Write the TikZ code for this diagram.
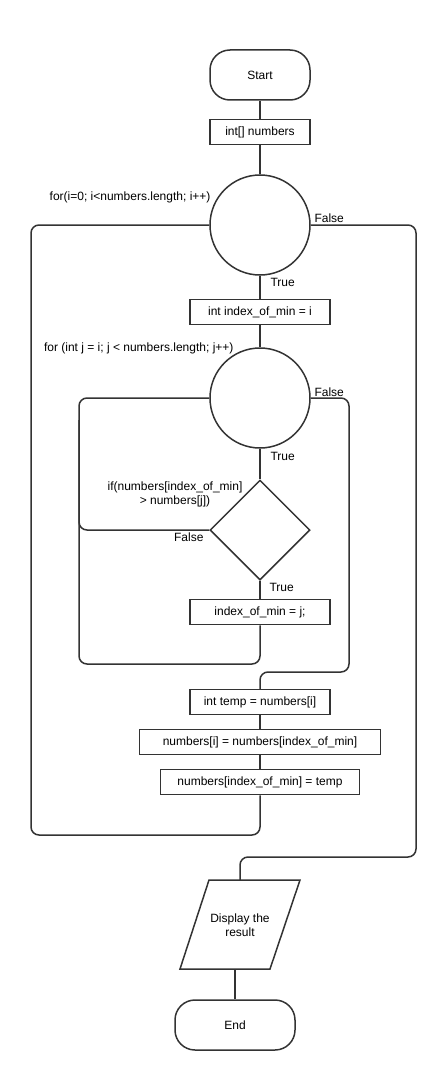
\documentclass[tikz,border=0pt]{standalone}
\usepackage{fontspec}
\setmainfont{Liberation Sans}
\usetikzlibrary{shapes.geometric}
\tikzstyle{startstop} = [draw=black!80, line width=1.5pt, rectangle, rounded corners=20pt, minimum width=100pt, minimum height=50pt, inner sep=0pt]
\tikzstyle{process} = [draw=black!80, line width=1.5pt, rectangle, minimum height=25pt, inner sep=0pt]
\tikzstyle{loop} = [draw=black!80, line width=1.5pt, circle, minimum size=100pt, inner sep=0pt]
\tikzstyle{decision} = [draw=black!80, line width=1.5pt, diamond, minimum width=100pt, minimum height=100pt, inner sep=0pt]
\tikzstyle{flow} = [draw=black!80, line width=1.5pt, rounded corners=8pt]

\begin{document}
\begin{tikzpicture}[x=1pt, y=-1pt, font=\fontsize{12}{14}\selectfont]
                \useasboundingbox (0,0) rectangle (441,1070);
                \node[startstop] (start) at (260,75) {Start};
                \node[process, minimum width=100pt] (nums) at (260,132) {int[] numbers};
                \node[loop] (for1) at (260,225) {};
                \node[process, minimum width=140pt] (idx) at (260,312) {int index\_of\_min = i};
                \node[loop] (for2) at (260,398) {};
                \node[decision] (cond) at (260,530) {};
                \node[process, minimum width=140pt] (setmin) at (260,612) {index\_of\_min = j;};
                \node[process, minimum width=140pt] (temp) at (260,702) {int temp = numbers[i]};
                \node[process, minimum width=241pt] (swap1) at (260,742) {numbers[i] = numbers[index\_of\_min]};
                \node[process, minimum width=199pt] (swap2) at (260,782) {numbers[index\_of\_min] = temp};
                \draw[draw=black!80, line width=1.5pt] (209,880) -- (300,880) -- (270,969) -- (180,969) -- cycle;
                \node[align=center] (disp) at (240,925) {Display the\\ result};
                \coordinate (disptop) at (240,880);
                \coordinate (dispbot) at (235,969);
                \node[startstop, minimum width=120pt] (end) at (235,1025) {End};

                \draw[flow] (start) -- (nums);
                \draw[flow] (nums) -- (for1);
                \draw[flow] (for1) -- (idx);
                \draw[flow] (idx) -- (for2);
                \draw[flow] (for2) -- (cond);
                \draw[flow] (cond) -- (setmin);
                \draw[flow] (setmin.south) |- (79,664) |- (for2.west);
                \draw[flow] (cond.west) -| (79,420);
                \draw[flow] (for2.east) -| (349,672) -| (temp.north);
                \draw[flow] (temp) -- (swap1);
                \draw[flow] (swap1) -- (swap2);
                \draw[flow] (swap2.south) |- (31,835) |- (for1.west);
                \draw[flow] (for1.east) -| (416,857) -| (disptop);
                \draw[flow] (dispbot) -- (end);

                \node[anchor=east] (for1label) at (214,197) {for(i=0; i<numbers.length; i++)};
                \node[anchor=west] (for1false) at (311,218) {False};
                \node[anchor=west] (for1true) at (267,282) {True};
                \node[anchor=east] (for2label) at (237,348) {for (int j = i; j < numbers.length; j++)};
                \node[anchor=west] (for2false) at (311,392) {False};
                \node[anchor=west] (for2true) at (267,456) {True};
                \node[align=center] (condlabel) at (175,494) {if(numbers[index\_of\_min]\\ > numbers[j])};
                \node[anchor=east] (condfalse) at (207,537) {False};
                \node[anchor=west] (condtrue) at (266,587) {True};
            \end{tikzpicture}
\end{document}
